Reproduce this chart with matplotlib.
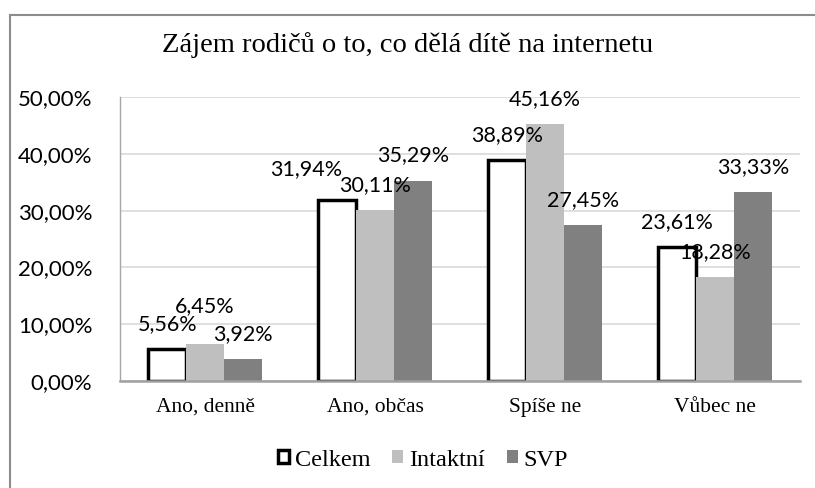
import numpy as np
import matplotlib.pyplot as plt
from matplotlib.patches import Rectangle

categories = ["Ano, denně", "Ano, občas", "Spíše ne", "Vůbec ne"]
series_names = ["Celkem", "Intaktní", "SVP"]
celkem = [5.56, 31.94, 38.89, 23.61]
intaktni = [6.45, 30.11, 45.16, 18.28]
svp = [3.92, 35.29, 27.45, 33.33]
yticks = [0, 10, 20, 30, 40, 50]

# labels that were nudged by hand in the original (series, category): (dx, dy) px
label_nudge = {(0, 1): (-31, 5), (1, 0): (0, 13)}

serif = "Liberation Serif"
sans = "Lato"

fig = plt.figure(figsize=(8.15, 4.88), dpi=100)
ax = fig.add_axes([120 / 815, 1 - 381 / 488, 680 / 815, 284 / 488])

# outer chart border (open on right/bottom like the crop)
fig.patches.append(Rectangle((10 / 815, -0.1), 1.2, 1 - 15 / 488 + 0.1,
                             transform=fig.transFigure, fill=False,
                             edgecolor="#8c8c8c", linewidth=1.5))

x = np.arange(len(categories))
w = 0.222
styles = [
    dict(facecolor="white", edgecolor="black", linewidth=2.5),
    dict(facecolor="#bfbfbf", edgecolor="none"),
    dict(facecolor="#808080", edgecolor="none"),
]
data = [celkem, intaktni, svp]
handles = []
for i, (vals, st) in enumerate(zip(data, styles)):
    pos = x + (i - 1) * w
    b = ax.bar(pos, vals, width=w, zorder=3, label=series_names[i], **st)
    handles.append(b)
    for j, (px, v) in enumerate(zip(pos, vals)):
        dx, dy = label_nudge.get((i, j), (0, 0))
        ax.annotate(f"{v:.2f}%".replace(".", ","), (px, v),
                    xytext=(dx * 0.72, (25 + dy) * 0.72),
                    textcoords="offset points", ha="center", va="center",
                    fontsize=15.5, fontfamily=sans, color="black", zorder=5)

ax.set_xlim(-0.5, 3.5)
ax.set_ylim(0, 50)
ax.set_yticks(yticks)
ax.set_yticklabels([f"{t:.2f}%".replace(".", ",") for t in yticks],
                   fontfamily=sans, fontsize=16)
ax.set_xticks(x)
ax.set_xticklabels(categories, fontfamily=serif, fontsize=15.5)
ax.tick_params(axis="both", length=0)
ax.tick_params(axis="y", pad=20)
ax.tick_params(axis="x", pad=12)
ax.grid(axis="y", color="#d9d9d9", linewidth=1.2, zorder=0)
for s in ["top", "right"]:
    ax.spines[s].set_visible(False)
ax.spines["left"].set_color("#a6a6a6")
ax.spines["left"].set_linewidth(1.0)
ax.spines["bottom"].set_color("#a0a0a0")
ax.spines["bottom"].set_linewidth(1.8)
ax.spines["bottom"].set_zorder(4)

fig.text(0.5, 1 - 45 / 488, "Zájem rodičů o to, co dělá dítě na internetu",
         ha="center", va="center", fontfamily=serif, fontsize=20.5)

leg = fig.legend(handles=handles, loc="center",
                 bbox_to_anchor=(423 / 815, 1 - 460 / 488),
                 ncol=3, frameon=False, fontsize=17.5,
                 handlelength=0.45, handleheight=0.45, handletextpad=0.25,
                 columnspacing=0.9)
for t in leg.get_texts():
    t.set_fontfamily(serif)

fig.savefig("out.png", dpi=100)
